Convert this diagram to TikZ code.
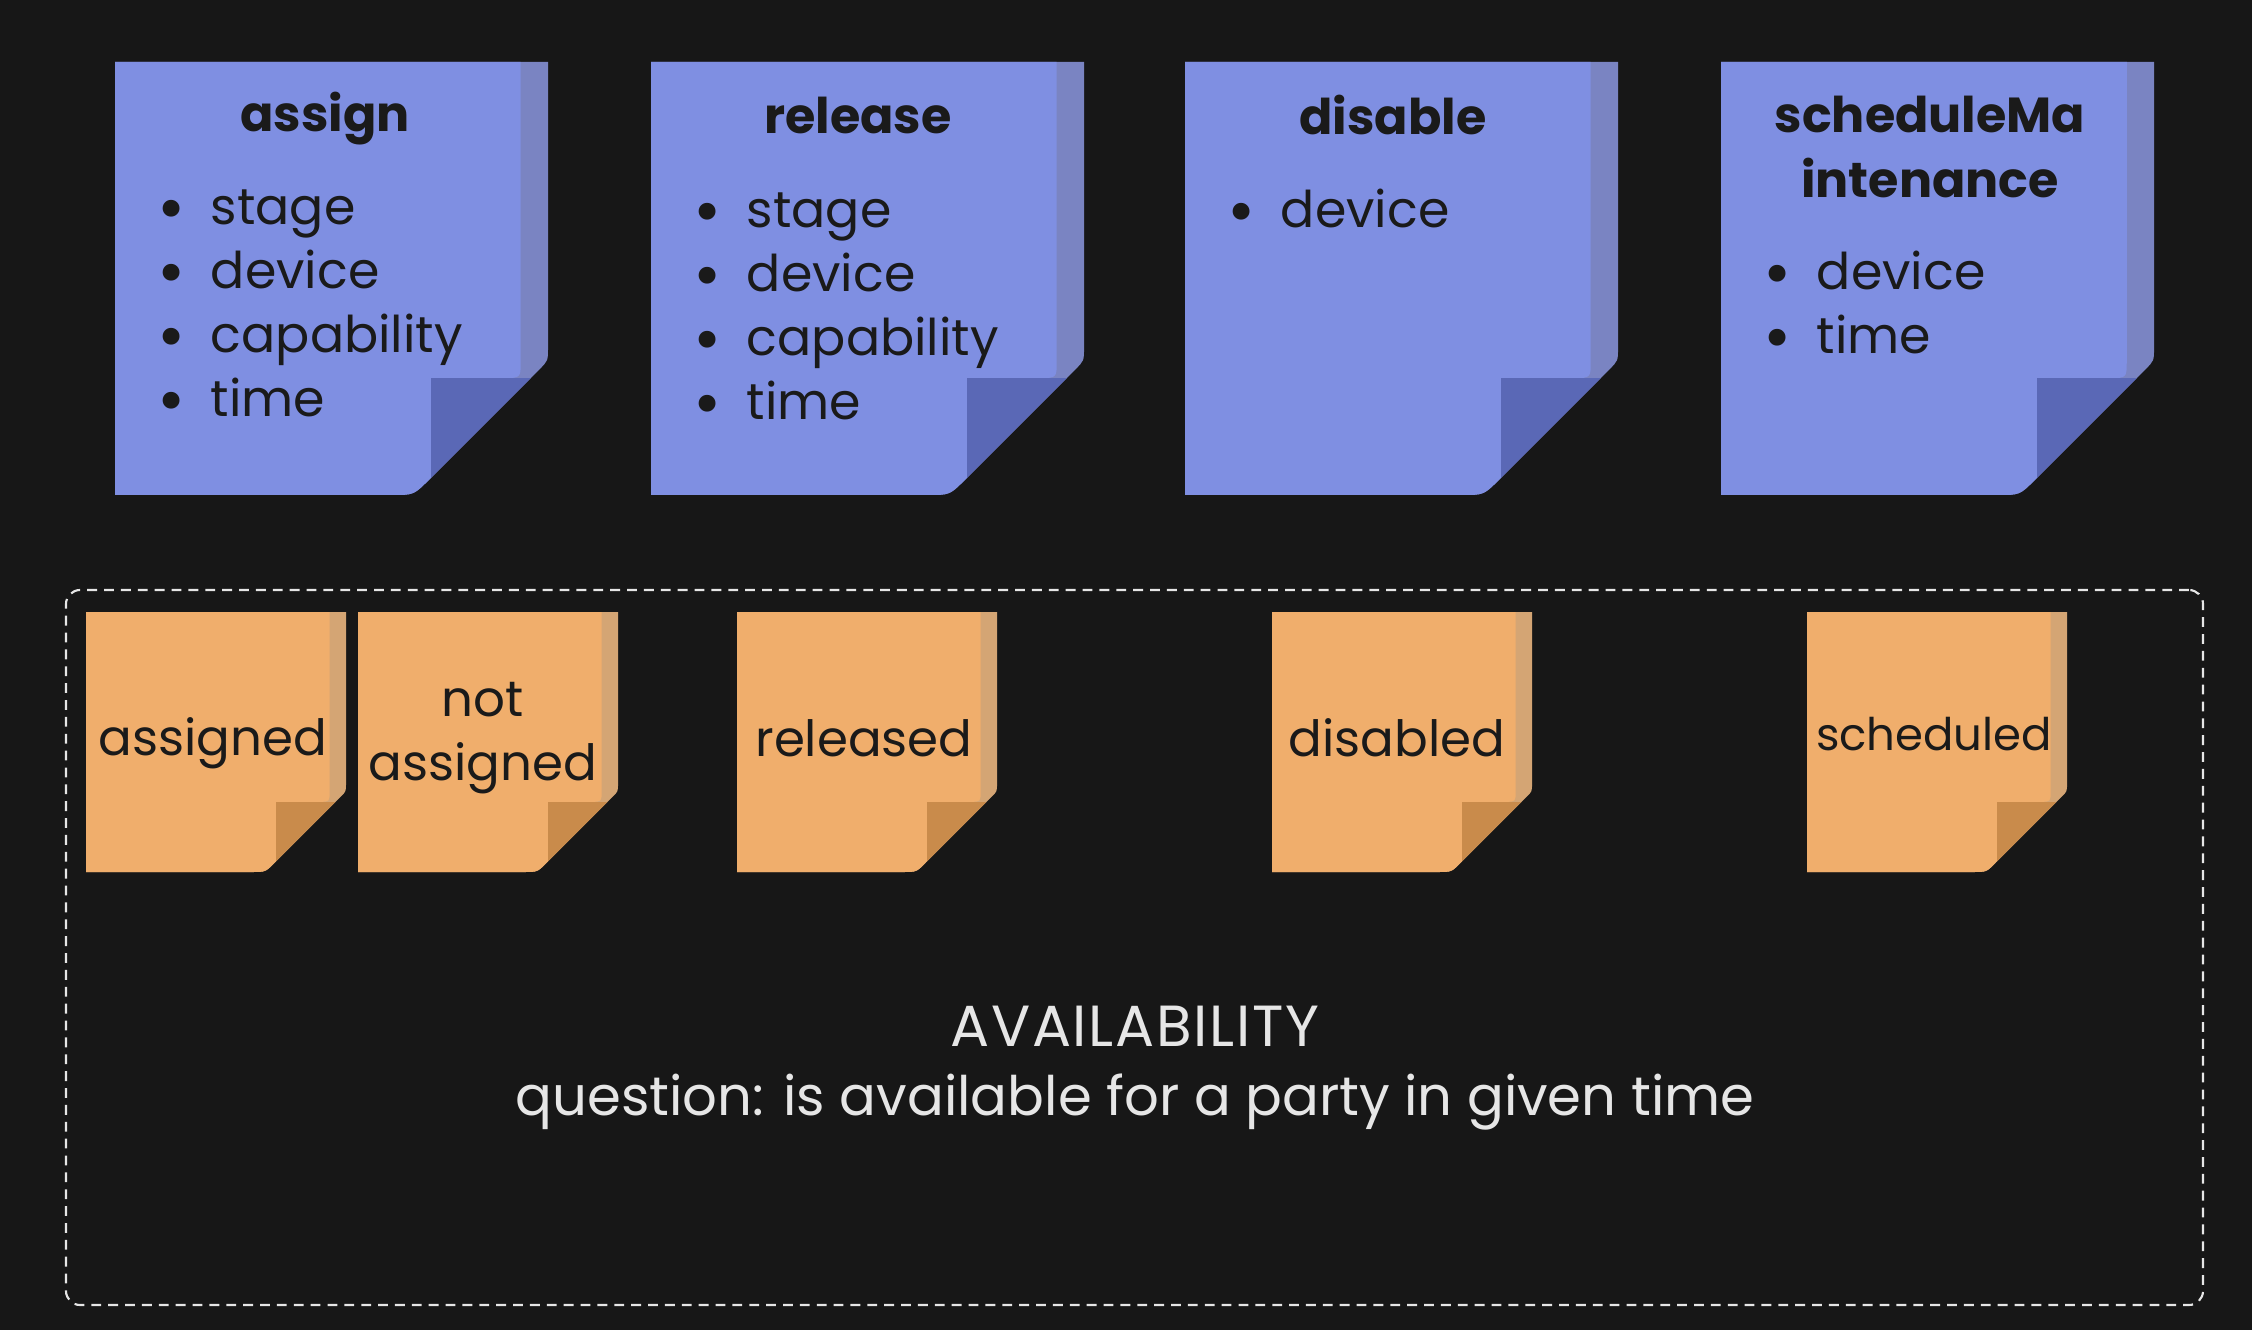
\documentclass[tikz,border=0pt]{standalone}
\usepackage{fontspec}
\setmainfont{Poppins}
\usetikzlibrary{positioning}
\definecolor{bgDark}{HTML}{171717}
\definecolor{noteBlue}{HTML}{7F8FE2}
\definecolor{noteBlueEdge}{HTML}{7A84C2}
\definecolor{noteBlueFold}{HTML}{5A68B6}
\definecolor{noteOrange}{HTML}{F0AE6C}
\definecolor{noteOrangeEdge}{HTML}{D4A574}
\definecolor{noteOrangeFold}{HTML}{C98B4B}
\definecolor{inkDark}{HTML}{1A1A1A}
\definecolor{inkLight}{HTML}{E6E6E6}

% sticky note: #1 x, #2 y (top left corner), #3 size, #4 colour prefix
\newcommand{\stickynote}[4]{%
  \begin{scope}[shift={(#1,#2)}, scale=#3]
    \path[fill=#4Edge] (0,0) -- (1,0) -- (1,-0.66) .. controls (1,-0.69) .. (0.98,-0.71)
      -- (0.725,-0.965) .. controls (0.69,-1) .. (0.64,-1) -- (0,-1) -- cycle;
    \begin{scope}
      \clip (0,0) -- (1,0) -- (1,-0.66) .. controls (1,-0.69) .. (0.98,-0.71)
        -- (0.725,-0.965) .. controls (0.69,-1) .. (0.64,-1) -- (0,-1) -- cycle;
      \path[fill=#4] (0,0) -- (0.937,0) -- (0.937,-0.69) .. controls (0.937,-0.73) .. (0.897,-0.73)
        -- (0.73,-0.73) -- (0.73,-1) -- (0,-1) -- cycle;
      \path[fill=#4Fold] (0.73,-0.73) rectangle (1,-1);
    \end{scope}
  \end{scope}}
\newcommand{\bul}{\raisebox{-0.25ex}{\scalebox{1.35}{\textbullet}}}

\begin{document}
\begin{tikzpicture}[
  every node/.style={inner sep=0pt},
  title/.style={font=\fontsize{14}{18.4}\selectfont\bfseries, text=inkDark, align=center},
  items/.style={font=\fontsize{14.4}{18.2}\selectfont, text=inkDark, anchor=base west},
  state/.style={font=\fontsize{14.2}{18}\selectfont, text=inkDark, align=center},
  caption/.style={font=\fontsize{15.5}{19.8}\selectfont, text=inkLight, align=center},
  frame/.style={draw=inkLight, line width=0.6pt, dash pattern=on 2.8pt off 2pt, rounded corners=4pt},
]
\fill[bgDark] (0,0) rectangle (22.52,13.30);
\useasboundingbox (0,0) rectangle (22.52,13.30);

% Commands
\stickynote{1.15}{12.68}{4.33}{noteBlue}
\stickynote{6.51}{12.68}{4.33}{noteBlue}
\stickynote{11.85}{12.68}{4.33}{noteBlue}
\stickynote{17.21}{12.68}{4.33}{noteBlue}

\node[title] (assign) at (3.25, 12.11) {assign};
\node[items] (assignArgs) at (1.57, 11.055) {\begin{tabular}[t]{@{}c@{\hspace{0.25cm}}l@{}}
  \bul & stage\\ \bul & device\\ \bul & capability\\ \bul & time\end{tabular}};

\node[title] (release) at (8.58, 12.15) {release};
\node[items] (releaseArgs) at (6.93, 11.025) {\begin{tabular}[t]{@{}c@{\hspace{0.25cm}}l@{}}
  \bul & stage\\ \bul & device\\ \bul & capability\\ \bul & time\end{tabular}};

\node[title] (disable) at (13.93, 12.15) {disable};
\node[items] (disableArgs) at (12.27, 11.025) {\begin{tabular}[t]{@{}c@{\hspace{0.25cm}}l@{}}
  \bul & device\end{tabular}};

\node[title] (schedule) at (19.30, 11.83) {scheduleMa\\intenance};
\node[items] (scheduleArgs) at (17.63, 10.40) {\begin{tabular}[t]{@{}c@{\hspace{0.25cm}}l@{}}
  \bul & device\\ \bul & time\end{tabular}};

% Availability
\node[frame, minimum width=21.37cm, minimum height=7.15cm] (avail) at (11.345, 3.825) {};

\stickynote{0.86}{7.18}{2.6}{noteOrange}
\stickynote{3.58}{7.18}{2.6}{noteOrange}
\stickynote{7.37}{7.18}{2.6}{noteOrange}
\stickynote{12.72}{7.18}{2.6}{noteOrange}
\stickynote{18.07}{7.18}{2.6}{noteOrange}

\node[state] (assigned) at (2.13, 5.87) {assigned};
\node[state] (notAssigned) at (4.83, 5.92) {not\\assigned};
\node[state] (released) at (8.64, 5.92) {released};
\node[state] (disabled) at (13.97, 5.92) {disabled};
\node[state, font=\fontsize{12.8}{16}\selectfont] (scheduled) at (19.34, 5.96) {scheduled};

\node[caption] (question) at (11.35, 2.62)
  {{\fontsize{16.5}{19.8}\selectfont\addfontfeature{LetterSpace=3}AVAILABILITY}\\question: is available for a party in given time};

\end{tikzpicture}
\end{document}
